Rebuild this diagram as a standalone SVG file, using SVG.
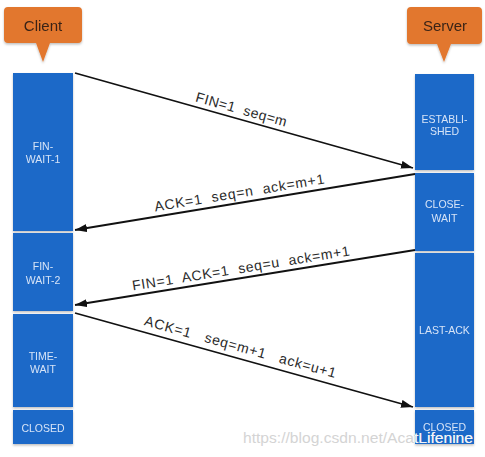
<svg xmlns="http://www.w3.org/2000/svg" width="485" height="457" viewBox="0 0 485 457">
  <style>
    .blk { fill: #1e69c8; }
    .st { font-family: "Liberation Sans", Arial, sans-serif; font-size: 10.5px; fill: #d6e4f7; text-anchor: middle; }
    .call { fill: #e2772e; }
    .ct { font-family: "Liberation Sans", Arial, sans-serif; font-size: 15px; fill: #3a2418; text-anchor: middle; }
    .ln { stroke: #111; stroke-width: 1.8; fill: none; marker-end: url(#ah); }
    .lb { font-family: "Liberation Sans", Arial, sans-serif; font-size: 14px; fill: #2a2a2a; text-anchor: middle; }
    .wm { font-family: "Liberation Sans", Arial, sans-serif; font-size: 15.5px; }
  </style>
  <defs>
    <marker id="ah" viewBox="0 0 12 8" refX="12" refY="4" markerWidth="12" markerHeight="8" markerUnits="userSpaceOnUse" orient="auto">
      <path d="M0,0 L12,4 L0,8 Z" fill="#111"/>
    </marker>
    <filter id="sh" x="-20%" y="-20%" width="140%" height="140%">
      <feDropShadow dx="0" dy="1.5" stdDeviation="1.2" flood-color="#000" flood-opacity="0.25"/>
    </filter>
    <clipPath id="srvclip"><rect x="415" y="410" width="59" height="34"/></clipPath>
  </defs>
  <rect width="485" height="457" fill="#fff"/>

  <g id="client-label" filter="url(#sh)">
    <path class="call" d="M8,7 H78 Q82,7 82,11 V39 Q82,43 78,43 H50 L43,62 L36,43 H8 Q4,43 4,39 V11 Q4,7 8,7 Z"/>
    <text class="ct" x="43" y="30.5">Client</text>
  </g>
  <g id="server-label" filter="url(#sh)">
    <path class="call" d="M411,7 H478 Q482,7 482,11 V40 Q482,44 478,44 H451 L444,62 L437,44 H411 Q407,44 407,40 V11 Q407,7 411,7 Z"/>
    <text class="ct" x="445" y="30.5">Server</text>
  </g>

  <g id="client-fin-wait-1" filter="url(#sh)">
    <rect class="blk" x="13" y="73" width="60" height="158"/>
    <text class="st" x="43" y="150">FIN-</text>
    <text class="st" x="43" y="163">WAIT-1</text>
  </g>
  <g id="client-fin-wait-2" filter="url(#sh)">
    <rect class="blk" x="13" y="233" width="60" height="78"/>
    <text class="st" x="43" y="270">FIN-</text>
    <text class="st" x="43" y="284">WAIT-2</text>
  </g>
  <g id="client-time-wait" filter="url(#sh)">
    <rect class="blk" x="13" y="314" width="60" height="93"/>
    <text class="st" x="43" y="360">TIME-</text>
    <text class="st" x="43" y="373">WAIT</text>
  </g>
  <g id="client-closed" filter="url(#sh)">
    <rect class="blk" x="13" y="410" width="60" height="34"/>
    <text class="st" x="43" y="431.5">CLOSED</text>
  </g>

  <g id="server-established" filter="url(#sh)">
    <rect class="blk" x="415" y="74" width="59" height="96"/>
    <text class="st" x="444.5" y="123">ESTABLI-</text>
    <text class="st" x="444.5" y="135">SHED</text>
  </g>
  <g id="server-close-wait" filter="url(#sh)">
    <rect class="blk" x="415" y="173" width="59" height="78"/>
    <text class="st" x="444.5" y="208">CLOSE-</text>
    <text class="st" x="444.5" y="222">WAIT</text>
  </g>
  <g id="server-last-ack" filter="url(#sh)">
    <rect class="blk" x="415" y="253" width="59" height="154"/>
    <text class="st" x="444.5" y="334">LAST-ACK</text>
  </g>
  <g id="server-closed" filter="url(#sh)">
    <rect class="blk" x="415" y="410" width="59" height="34"/>
    <text class="st" x="444.5" y="431">CLOSED</text>
  </g>

  <g id="connectors">
    <line class="ln" x1="75" y1="73" x2="413" y2="168"/>
    <line class="ln" x1="415" y1="174" x2="75" y2="230"/>
    <line class="ln" x1="415" y1="250" x2="75" y2="305"/>
    <line class="ln" x1="75" y1="313" x2="413" y2="407"/>
    <text class="lb" transform="translate(240,114) rotate(15.7)" textLength="94" lengthAdjust="spacing" xml:space="preserve">FIN=1  seq=m</text>
    <text class="lb" transform="translate(240,197.5) rotate(-9.35)" textLength="172" lengthAdjust="spacing" xml:space="preserve">ACK=1  seq=n  ack=m+1</text>
    <text class="lb" transform="translate(241.5,273) rotate(-9.2)" textLength="220" lengthAdjust="spacing" xml:space="preserve">FIN=1  ACK=1  seq=u  ack=m+1</text>
    <text class="lb" transform="translate(239,351.5) rotate(15.5)" textLength="198" lengthAdjust="spacing" xml:space="preserve">ACK=1   seq=m+1   ack=u+1</text>
  </g>

  <text class="wm" x="243" y="443" fill="#d4d4d4" textLength="230" lengthAdjust="spacingAndGlyphs">https://blog.csdn.net/AcatLifenine</text>
  <text class="wm" x="243" y="443" fill="#f2f5fa" textLength="230" lengthAdjust="spacingAndGlyphs" clip-path="url(#srvclip)">https://blog.csdn.net/AcatLifenine</text>
</svg>
